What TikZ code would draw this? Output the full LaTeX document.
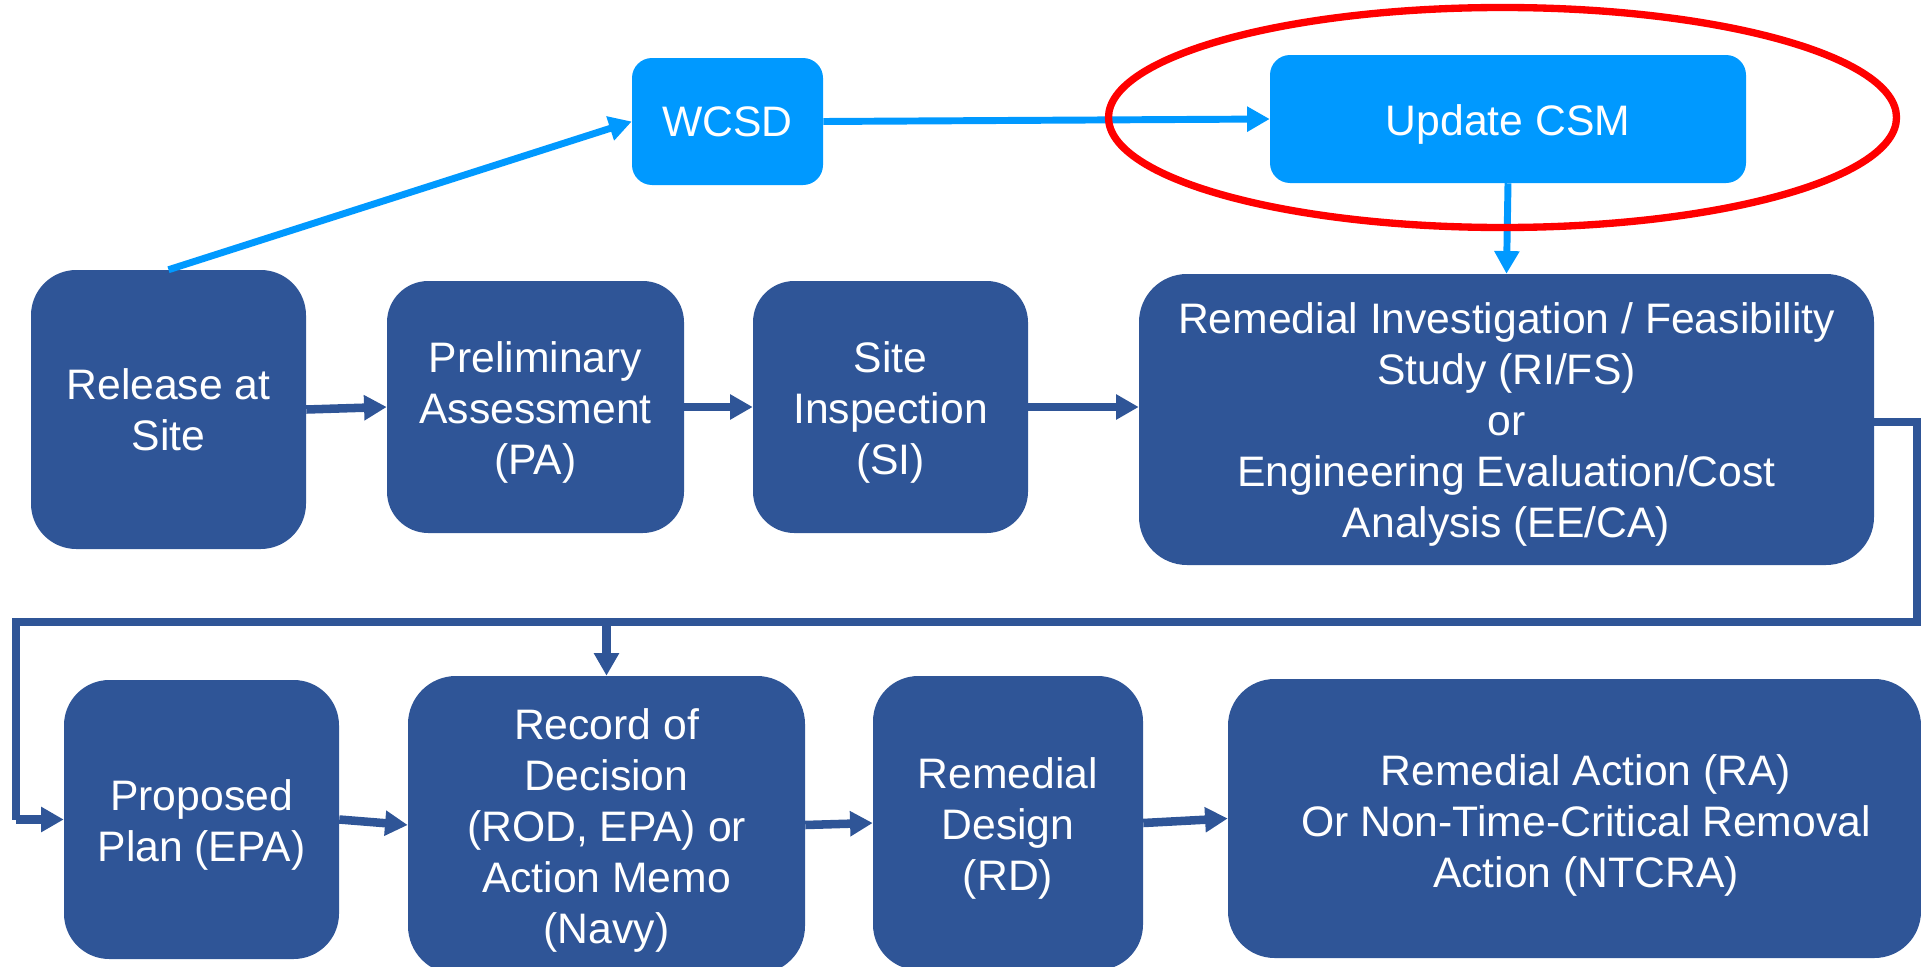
\documentclass[tikz,border=0pt]{standalone}
\usepackage{fontspec}
\setmainfont{Liberation Sans}
\usetikzlibrary{arrows.meta}
\definecolor{navyblock}{HTML}{2F5597}
\definecolor{skyblock}{HTML}{0099FF}
\definecolor{ringred}{HTML}{FF0000}
% taller first line so the text block sits a little lower in its box
\newcommand{\capstrut}{\rule{0pt}{31pt}}
\begin{document}
\begin{tikzpicture}[x=0.75pt,y=-0.75pt,
  boxtext/.style={text=white, align=center, inner sep=0pt,
    font=\fontsize{32pt}{38.25pt}\selectfont},
  navybox/.style={rectangle, fill=navyblock, boxtext},
  skybox/.style={rectangle, fill=skyblock, rounded corners=15pt, boxtext},
  darr/.style={draw=navyblock, line width=6.4pt,
    -{Triangle[length=17pt,width=18pt]}},
  dline/.style={draw=navyblock, line width=6.4pt, line join=miter},
  larr/.style={draw=skyblock, line width=5.2pt,
    -{Triangle[length=17pt,width=18pt]}}]
\useasboundingbox (0,0) rectangle (1921,967);
\clip (0,0) rectangle (1921,967);

% top row: light blue steps
\node[skybox, minimum width=143.25pt, minimum height=95.25pt] (wcsd) at (727.5,121.5) {WCSD};
\node[skybox, minimum width=357pt, minimum height=96pt] (csm) at (1508,119) {\capstrut Update CSM};

% middle row
\node[navybox, rounded corners=34pt, minimum width=206.25pt, minimum height=209.25pt] (rel) at (168.5,409.5) {Release at\\Site};
\node[navybox, rounded corners=31pt, minimum width=222.75pt, minimum height=189pt] (pa) at (535.5,407) {\capstrut Preliminary\\Assessment\\(PA)};
\node[navybox, rounded corners=31pt, minimum width=206.25pt, minimum height=189pt] (si) at (890.5,407) {\capstrut Site\\Inspection\\(SI)};
\node[navybox, rounded corners=36pt, minimum width=551.25pt, minimum height=218.25pt] (ri) at (1506.5,419.5) {\capstrut Remedial Investigation / Feasibility\\Study (RI/FS)\\or\\Engineering Evaluation/Cost\\Analysis (EE/CA)};

% bottom row
\node[navybox, rounded corners=34pt, minimum width=206.25pt, minimum height=209.25pt] (pp) at (201.5,819.5) {\capstrut Proposed\\Plan (EPA)};
\node[navybox, rounded corners=36pt, minimum width=297.75pt, minimum height=223.5pt] (rod) at (606.5,825) {\capstrut Record of\\Decision\\(ROD, EPA) or\\Action Memo\\(Navy)};
\node[navybox, rounded corners=34pt, minimum width=202.5pt, minimum height=220.5pt] (rd) at (1008,823) {\capstrut Remedial\\Design\\(RD)};
\node[navybox, rounded corners=35pt, minimum width=519.75pt, minimum height=209.25pt] (ra) at (1574.5,818.5) {};
\node[boxtext] (ratext) at (1586,820) {\capstrut Remedial Action (RA)\\Or Non-Time-Critical Removal\\Action (NTCRA)};

% light blue connectors
\draw[larr] (rel.north) -- (wcsd.west);
\draw[larr] (wcsd.east) -- (csm.west);
\draw[larr] (csm.south) -- (ri.north);

% main sequence
\draw[darr] (rel.east) -- (pa.west);
\draw[darr] (pa.east) -- (si.west);
\draw[darr] (si.east) -- (si.east -| ri.west);

% loop back to the lower row
\coordinate (cr) at (1917,622);
\coordinate (cl) at (16,622);
\draw[dline] ([yshift=-1.9pt]ri.east) -- ([yshift=-1.9pt]ri.east -| cr) -- (cr) -- (cl) -- (cl |- pp.west);
\draw[darr] (cl |- pp.west) -- (pp.west);
\draw[darr] (cr -| rod.north) -- (rod.north);

\draw[darr] (pp.east) -- (rod.west);
\draw[darr] (rod.east) -- (rd.west);
\draw[darr] (rd.east) -- (ra.west);

% highlight ring
\draw[draw=ringred, line width=5.5pt] (1502.5,117.5) ellipse [x radius=295.5pt, y radius=82.5pt];
\end{tikzpicture}
\end{document}
